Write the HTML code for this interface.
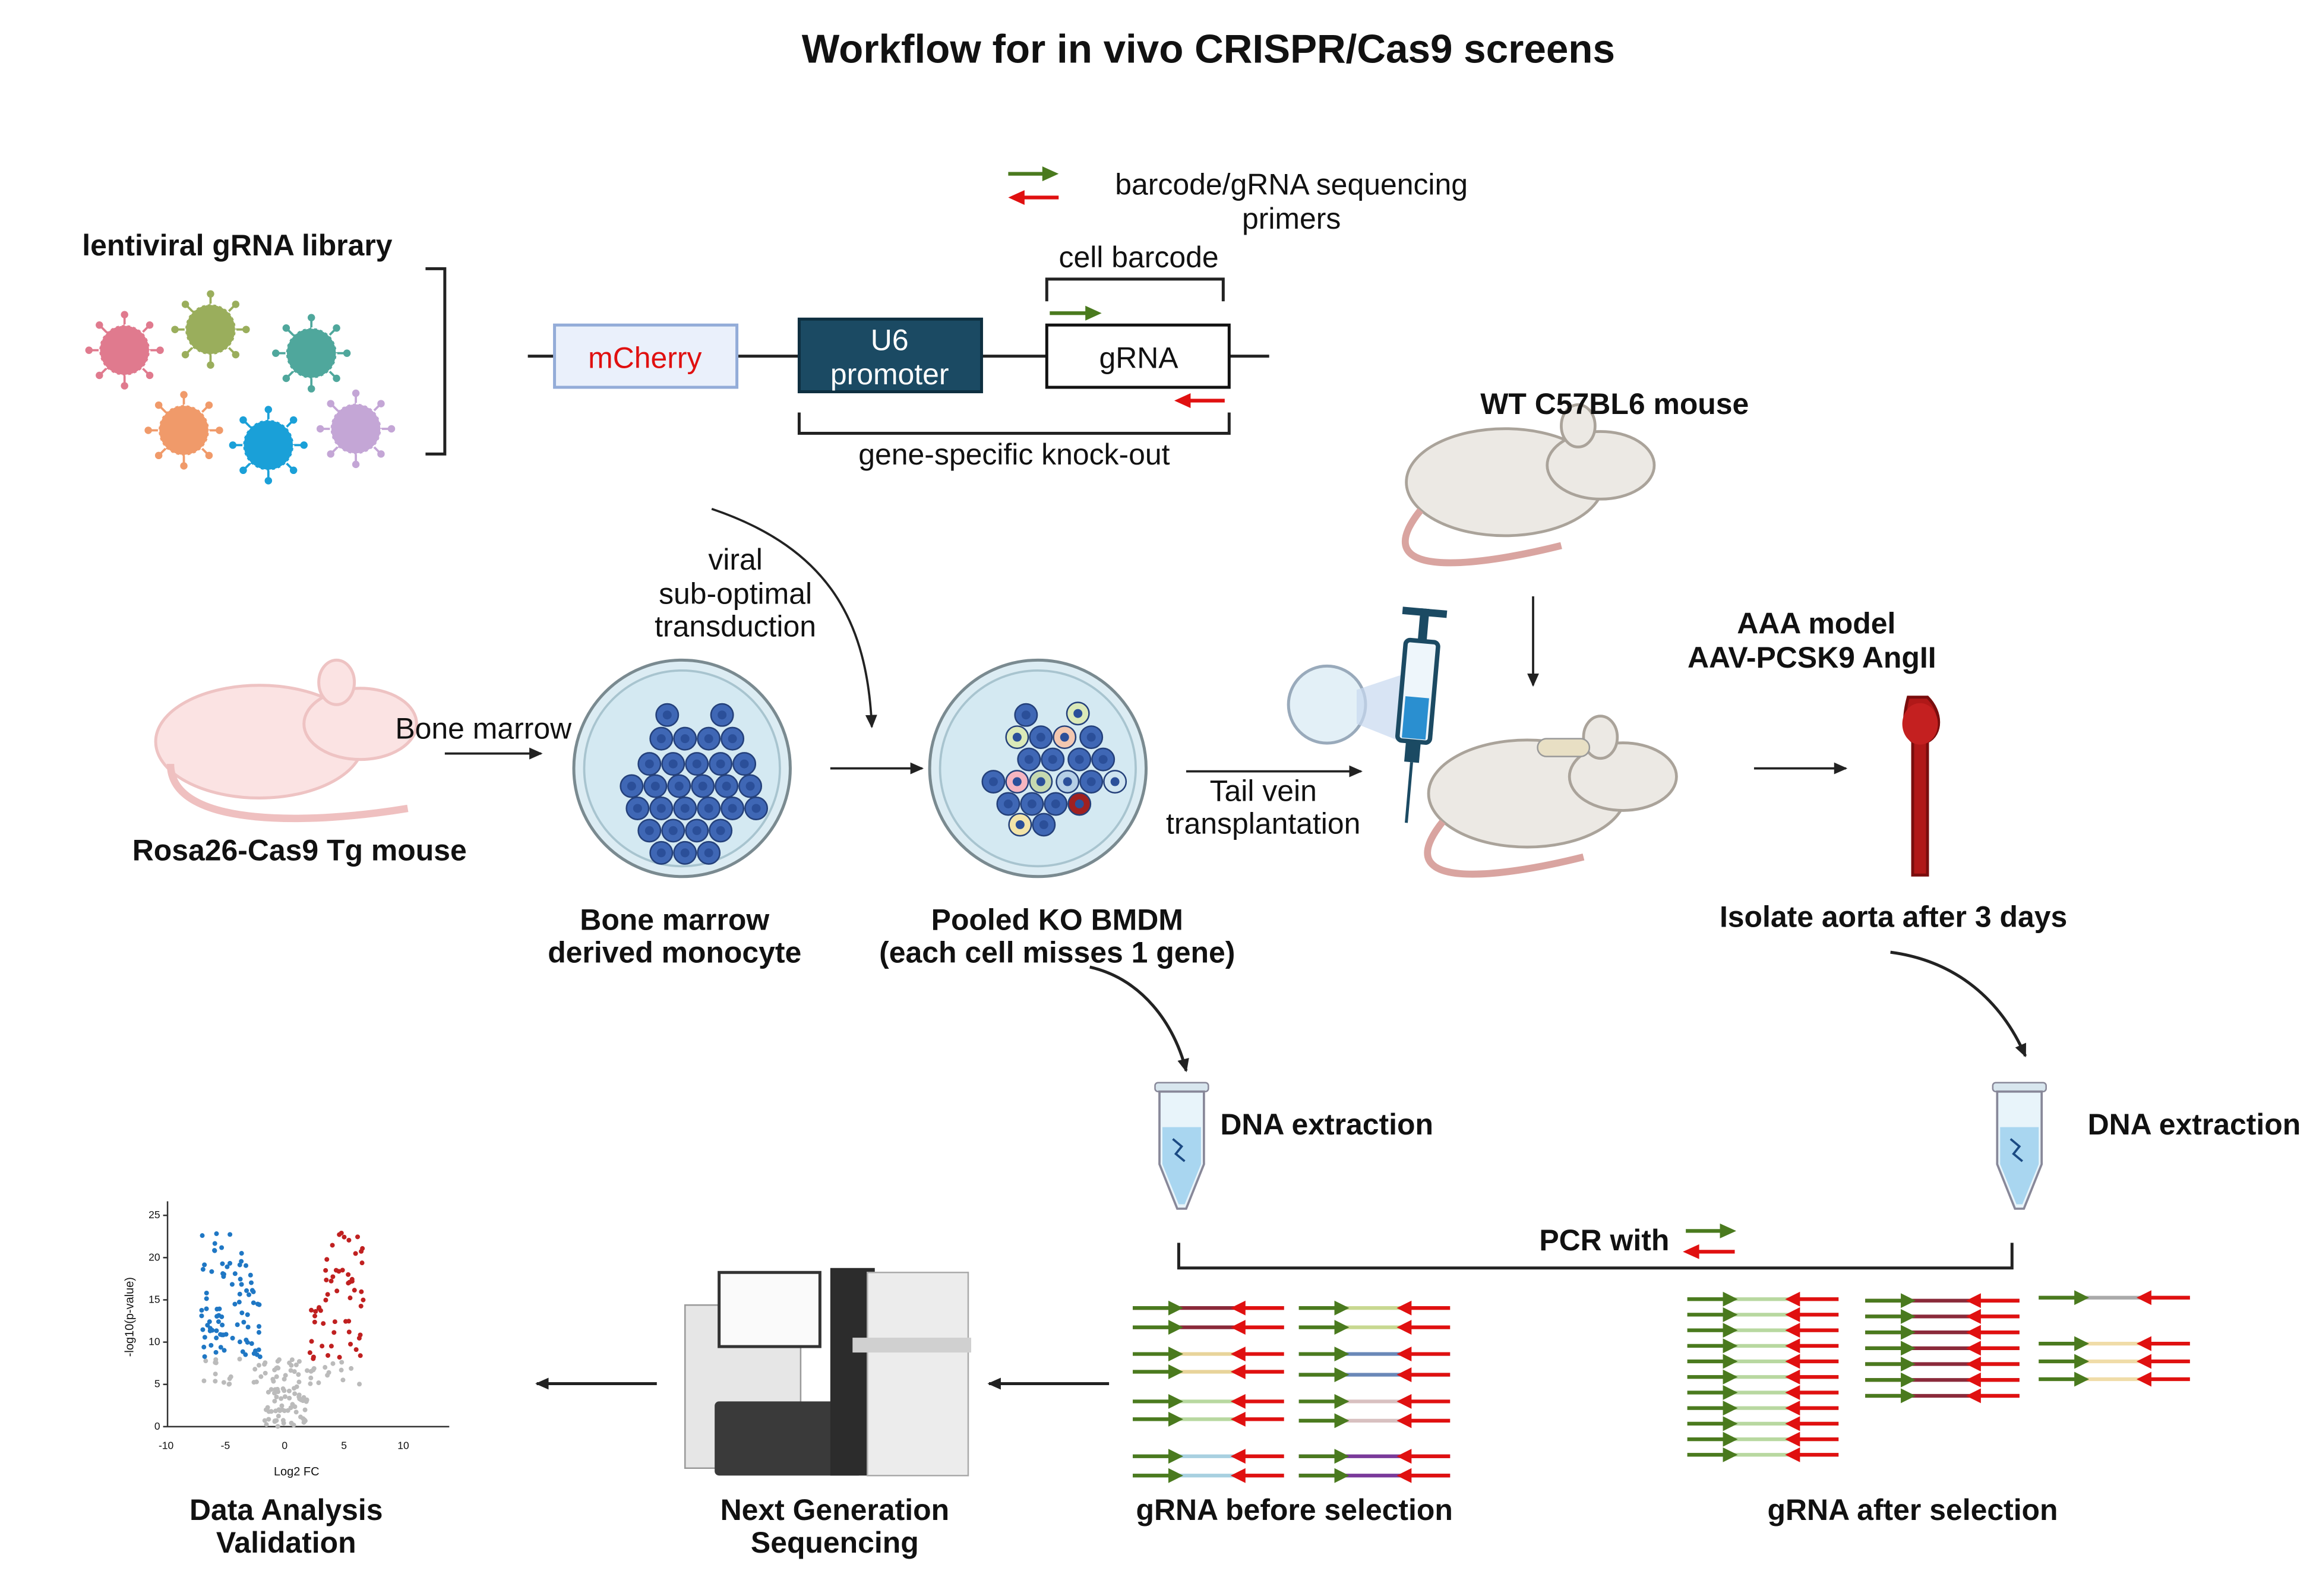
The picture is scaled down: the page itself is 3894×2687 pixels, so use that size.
<!DOCTYPE html>
<html><head><meta charset="utf-8"><style>
html,body{margin:0;padding:0;background:#fff}
svg{display:block}
text{font-family:"Liberation Sans",sans-serif;fill:#111}
.b{font-weight:bold}
</style></head><body>
<svg id="s" xmlns="http://www.w3.org/2000/svg" width="3894" height="2687" viewBox="0 0 1560 1076">
<defs>
<marker id="ah" markerWidth="10" markerHeight="10" refX="8" refY="5" orient="auto" markerUnits="userSpaceOnUse"><path d="M0,1 L9,5 L0,9 Z" fill="#222"/></marker>
<g id="mouse">
<ellipse cx="0" cy="0" rx="70" ry="38"/>
<ellipse cx="68" cy="-12" rx="38" ry="24"/>
<ellipse cx="52" cy="-40" rx="12" ry="15"/>
</g>
</defs>
<rect width="1560" height="1076" fill="#fff"/>
<text x="815" y="42" font-size="27" class="b" text-anchor="middle">Workflow for in vivo CRISPR/Cas9 screens</text>

<!-- legend -->
<line x1="680" y1="117" x2="705" y2="117" stroke="#4a7a1e" stroke-width="2.5"/><path d="M703,112 L714,117 L703,122Z" fill="#4a7a1e"/>
<line x1="690" y1="133" x2="714" y2="133" stroke="#e01010" stroke-width="2.5"/><path d="M691,128 L680,133 L691,138Z" fill="#e01010"/>
<text x="871" y="131" font-size="20" text-anchor="middle">barcode/gRNA sequencing</text>
<text x="871" y="154" font-size="20" text-anchor="middle">primers</text>

<text x="160" y="172" font-size="20" class="b" text-anchor="middle">lentiviral gRNA library</text>
<g id="vir"></g>
<path d="M287,181 H300 V306 H287" fill="none" stroke="#222" stroke-width="2"/>

<!-- construct -->
<line x1="356" y1="240" x2="856" y2="240" stroke="#222" stroke-width="2"/>
<rect x="374" y="219" width="123" height="42" fill="#eaf0fb" stroke="#93acd8" stroke-width="2"/>
<text x="435" y="248" font-size="20" text-anchor="middle" style="fill:#e01010">mCherry</text>
<rect x="539" y="215" width="123" height="49" fill="#1b4a63" stroke="#0e2f40" stroke-width="2"/>
<text x="600" y="236" font-size="20" text-anchor="middle" style="fill:#fff">U6</text>
<text x="600" y="259" font-size="20" text-anchor="middle" style="fill:#fff">promoter</text>
<rect x="706" y="219" width="123" height="42" fill="#fff" stroke="#111" stroke-width="2"/>
<text x="768" y="248" font-size="20" text-anchor="middle">gRNA</text>
<path d="M706,203 V188 H825 V203" fill="none" stroke="#222" stroke-width="2"/>
<text x="768" y="180" font-size="20" text-anchor="middle">cell barcode</text>
<line x1="708" y1="211" x2="734" y2="211" stroke="#4a7a1e" stroke-width="2.5"/><path d="M732,206 L743,211 L732,216Z" fill="#4a7a1e"/>
<line x1="802" y1="270" x2="826" y2="270" stroke="#e01010" stroke-width="2.5"/><path d="M803,265 L792,270 L803,275Z" fill="#e01010"/>
<path d="M539,278 V292 H829 V278" fill="none" stroke="#222" stroke-width="2"/>
<text x="684" y="313" font-size="20" text-anchor="middle">gene-specific knock-out</text>

<!-- mice -->
<g fill="#fbe3e3" stroke="#eec3c3" stroke-width="2" transform="translate(175,500)"><use href="#mouse"/>
<path d="M-60,15 C-60,60 40,55 100,45" fill="none" stroke="#efc0c0" stroke-width="5"/></g>
<text x="202" y="580" font-size="20" class="b" text-anchor="middle">Rosa26-Cas9 Tg mouse</text>
<g fill="#ece9e4" stroke="#aaa39a" stroke-width="2" transform="translate(1015,325) scale(0.95)"><use href="#mouse"/>
<path d="M-60,20 C-100,70 -20,60 40,45" fill="none" stroke="#d9a4a0" stroke-width="5"/></g>
<text x="1089" y="279" font-size="20" class="b" text-anchor="middle">WT C57BL6 mouse</text>
<g fill="#ece9e4" stroke="#aaa39a" stroke-width="2" transform="translate(1030,535) scale(0.95)"><use href="#mouse"/>
<path d="M-60,20 C-100,70 -20,60 40,45" fill="none" stroke="#d9a4a0" stroke-width="5"/></g>
<rect x="1037" y="498" width="35" height="12" rx="6" fill="#e8dfc4" stroke="#999"/>

<!-- arrows -->
<text x="326" y="498" font-size="20" text-anchor="middle">Bone marrow</text>
<line x1="300" y1="508" x2="365" y2="508" stroke="#222" stroke-width="1.5" marker-end="url(#ah)"/>
<line x1="560" y1="518" x2="622" y2="518" stroke="#222" stroke-width="1.5" marker-end="url(#ah)"/>
<line x1="800" y1="520" x2="918" y2="520" stroke="#222" stroke-width="1.5" marker-end="url(#ah)"/>
<text x="852" y="540" font-size="20" text-anchor="middle">Tail vein</text>
<text x="852" y="562" font-size="20" text-anchor="middle">transplantation</text>
<line x1="1034" y1="402" x2="1034" y2="462" stroke="#222" stroke-width="1.5" marker-end="url(#ah)"/>
<line x1="1183" y1="518" x2="1245" y2="518" stroke="#222" stroke-width="1.5" marker-end="url(#ah)"/>
<path d="M480,343 C560,370 585,420 588,490" fill="none" stroke="#222" stroke-width="1.5" marker-end="url(#ah)"/>
<text x="496" y="384" font-size="20" text-anchor="middle">viral</text>
<text x="496" y="407" font-size="20" text-anchor="middle">sub-optimal</text>
<text x="496" y="429" font-size="20" text-anchor="middle">transduction</text>
<path d="M735,652 C770,660 792,690 800,722" fill="none" stroke="#222" stroke-width="2" marker-end="url(#ah)"/>
<path d="M1275,642 C1320,648 1350,675 1366,712" fill="none" stroke="#222" stroke-width="2" marker-end="url(#ah)"/>
<line x1="748" y1="933" x2="667" y2="933" stroke="#222" stroke-width="2" marker-end="url(#ah)"/>
<line x1="443" y1="933" x2="362" y2="933" stroke="#222" stroke-width="2" marker-end="url(#ah)"/>

<!-- dishes -->
<circle cx="460" cy="518" r="73" fill="#dcecf3" stroke="#7a8a90" stroke-width="2"/>
<circle cx="460" cy="518" r="66" fill="#d4e9f2" stroke="#a8c4cf" stroke-width="1.5"/>
<circle cx="700" cy="518" r="73" fill="#dcecf3" stroke="#7a8a90" stroke-width="2"/>
<circle cx="700" cy="518" r="66" fill="#d4e9f2" stroke="#a8c4cf" stroke-width="1.5"/>
<g id="cells"></g>
<text x="455" y="627" font-size="20" class="b" text-anchor="middle">Bone marrow</text>
<text x="455" y="649" font-size="20" class="b" text-anchor="middle">derived monocyte</text>
<text x="713" y="627" font-size="20" class="b" text-anchor="middle">Pooled KO BMDM</text>
<text x="713" y="649" font-size="20" class="b" text-anchor="middle">(each cell misses 1 gene)</text>

<!-- syringe -->
<circle cx="895" cy="475" r="26" fill="#e3f0f7" stroke="#9ab" stroke-width="2"/>
<path d="M915,465 L945,455 L945,500 L915,488Z" fill="#c8d8f0" opacity="0.7"/>
<g transform="rotate(5 955 480)">
<rect x="952" y="410" width="6" height="25" fill="#1b4a63"/><rect x="940" y="410" width="30" height="5" fill="#1b4a63"/>
<rect x="944" y="432" width="22" height="68" rx="3" fill="#eef6fb" stroke="#1b4a63" stroke-width="3"/>
<rect x="947" y="470" width="16" height="28" fill="#2a8fd0"/>
<rect x="950" y="500" width="10" height="14" fill="#1b4a63"/>
<line x1="955" y1="514" x2="955" y2="555" stroke="#1b4a63" stroke-width="2"/></g>

<text x="1225" y="427" font-size="20" class="b" text-anchor="middle">AAA model</text>
<text x="1222" y="450" font-size="20" class="b" text-anchor="middle">AAV-PCSK9 AngII</text>
<path d="M1287,470 C1283,485 1284,495 1290,500 L1290,590 L1300,590 L1300,500 C1310,495 1310,480 1300,470 Z" fill="#b01818" stroke="#7a0d0d" stroke-width="2"/>
<ellipse cx="1295" cy="488" rx="12" ry="14" fill="#c42020"/>
<text x="1277" y="625" font-size="20" class="b" text-anchor="middle">Isolate aorta after 3 days</text>

<!-- tubes -->
<g id="t1" transform="translate(797,0)">
<rect x="-18" y="730" width="36" height="6" rx="2" fill="#d8e6ee" stroke="#889"/>
<path d="M-15,736 V785 L-3,815 H3 L15,785 V736Z" fill="#e8f4fa" stroke="#889" stroke-width="1.5"/>
<path d="M-13,760 V785 L-2,812 H2 L13,785 V760Z" fill="#a9d6f0"/>
<path d="M-6,768 l6,5 l-4,5 l6,5" stroke="#1b4a83" fill="none" stroke-width="1.5"/></g>
<use href="#t1" x="565"/>
<text x="823" y="765" font-size="20" class="b">DNA extraction</text>
<text x="1408" y="765" font-size="20" class="b">DNA extraction</text>

<!-- PCR -->
<path d="M795,838 V855 H1357 V838" fill="none" stroke="#222" stroke-width="2"/>
<text x="1082" y="843" font-size="20" class="b" text-anchor="middle">PCR with</text>
<line x1="1137" y1="830" x2="1162" y2="830" stroke="#4a7a1e" stroke-width="2.5"/><path d="M1160,825 L1171,830 L1160,835Z" fill="#4a7a1e"/>
<line x1="1145" y1="844" x2="1170" y2="844" stroke="#e01010" stroke-width="2.5"/><path d="M1146,839 L1135,844 L1146,849Z" fill="#e01010"/>
<g id="pr"></g>
<text x="873" y="1025" font-size="20" class="b" text-anchor="middle">gRNA before selection</text>
<text x="1290" y="1025" font-size="20" class="b" text-anchor="middle">gRNA after selection</text>

<!-- sequencer -->
<rect x="462" y="880" width="78" height="110" fill="#e6e6e6" stroke="#999"/>
<rect x="482" y="945" width="100" height="50" rx="3" fill="#3a3a3a"/>
<rect x="485" y="858" width="68" height="50" fill="#fafafa" stroke="#333" stroke-width="2"/>
<rect x="560" y="855" width="30" height="140" fill="#2c2c2c"/>
<rect x="585" y="858" width="68" height="137" fill="#ececec" stroke="#aaa"/>
<rect x="575" y="902" width="80" height="10" fill="#d0d0d0"/>
<text x="563" y="1025" font-size="20" class="b" text-anchor="middle">Next Generation</text>
<text x="563" y="1047" font-size="20" class="b" text-anchor="middle">Sequencing</text>

<!-- volcano -->
<line x1="113" y1="810" x2="113" y2="962" stroke="#333"/>
<line x1="113" y1="962" x2="303" y2="962" stroke="#333"/>
<g font-size="7" id="ax"></g>
<text x="200" y="995" font-size="8" text-anchor="middle">Log2 FC</text>
<text transform="translate(90,888) rotate(-90)" font-size="8" text-anchor="middle">-log10(p-value)</text>
<g id="pts"></g>
<text x="193" y="1025" font-size="20" class="b" text-anchor="middle">Data Analysis</text>
<text x="193" y="1047" font-size="20" class="b" text-anchor="middle">Validation</text>
</svg>
<script>
var NS="http://www.w3.org/2000/svg";
function el(p,t,a){var e=document.createElementNS(NS,t);for(var k in a)e.setAttribute(k,a[k]);document.getElementById(p).appendChild(e);return e;}
var seed=7;function r(){seed=(seed*9301+49297)%233280;return seed/233280;}
[[84,236,'#e07a8e'],[142,222,'#9aae5c'],[210,238,'#4fa79c'],[124,290,'#f09a6a'],[181,300,'#1aa0d8'],[240,289,'#c4a6d6']].forEach(function(v){
for(var i=0;i<8;i++){var a=i*Math.PI/4;el('vir','line',{x1:v[0],y1:v[1],x2:v[0]+24*Math.cos(a),y2:v[1]+24*Math.sin(a),stroke:v[2],'stroke-width':1.5});el('vir','circle',{cx:v[0]+24*Math.cos(a),cy:v[1]+24*Math.sin(a),r:2.5,fill:v[2]});}
el('vir','circle',{cx:v[0],cy:v[1],r:17,fill:v[2],stroke:'#fff','stroke-width':1,'stroke-dasharray':'2 2'});});
function cell(x,y,c){el('cells','circle',{cx:x,cy:y,r:7.5,fill:c||'#3f67b5',stroke:'#24407a','stroke-width':1});el('cells','circle',{cx:x,cy:y,r:3,fill:'#2b4f99'});}
var rows=[[462,[450,487]],[478,[446,462,478,494]],[495,[438,454,470,486,502]],[510,[426,442,458,474,490,506]],[525,[430,446,462,478,494,510]],[540,[438,454,470,486]],[555,[446,462,478]]];
rows.forEach(function(rw){rw[1].forEach(function(x){cell(x,rw[0]+20);});});
var c2=[[692,482],[727,481,'#dbe9b8'],[686,497,'#dbe9b8'],[702,497],[718,497,'#f3c7b0'],[736,497],[694,512],[710,512],[728,512],[744,512],[670,527],[686,527,'#f5b5c0'],[702,527,'#c6d9b0'],[720,527,'#b5cfe6'],[736,527],[752,527,'#cfe4f0'],[680,542],[696,542],[712,542],[728,542,'#a02020'],[688,556,'#f3e4a8'],[704,556]];
c2.forEach(function(c){cell(c[0],c[1],c[2]);});
function pr(x,y,w,c){el('pr','line',{x1:x,y1:y,x2:x+w,y2:y,stroke:c,'stroke-width':2.5});
el('pr','line',{x1:x,y1:y,x2:x+28,y2:y,stroke:'#4a7a1e','stroke-width':2.5});el('pr','path',{d:'M'+(x+24)+','+(y-5)+' l10,5 l-10,5Z',fill:'#4a7a1e'});
el('pr','line',{x1:x+w-30,y1:y,x2:x+w,y2:y,stroke:'#e01010','stroke-width':2.5});el('pr','path',{d:'M'+(x+w-26)+','+(y-5)+' l-10,5 l10,5Z',fill:'#e01010'});}
[[882,'#8a2a3a'],[895,'#8a2a3a'],[913,'#e8d49a'],[925,'#e8d49a'],[945,'#b8d8a0'],[957,'#b8d8a0'],[982,'#a8d0e0'],[995,'#a8d0e0']].forEach(function(a){pr(764,a[0],102,a[1]);});
[[882,'#c8d890'],[895,'#c8d890'],[913,'#6a88b8'],[927,'#6a88b8'],[945,'#d8c0c0'],[958,'#d8c0c0'],[982,'#7a3a9a'],[995,'#7a3a9a']].forEach(function(a){pr(876,a[0],102,a[1]);});
for(var i=0;i<11;i++)pr(1138,876+i*10.5,102,'#b8d8a0');
for(var i=0;i<7;i++)pr(1258,877+i*10.7,104,'#8a2a3a');
pr(1375,875,102,'#aaaaaa');[906,918,930].forEach(function(y){pr(1375,y,102,'#f0dca8');});
[-10,-5,0,5,10].forEach(function(v){var x=192+v*8;el('ax','text',{x:x,y:977,'text-anchor':'middle'}).textContent=v;});
[0,5,10,15,20,25].forEach(function(v){var y=962-v*5.7;el('ax','text',{x:108,y:y+2,'text-anchor':'end'}).textContent=v;el('ax','line',{x1:110,y1:y,x2:113,y2:y,stroke:'#333'});});
for(var i=0;i<260;i++){var x=(r()-0.5)*2;
var fc=x*7;var g=Math.abs(fc)<2;var yv=g?r()*8:(r()*18*Math.min(1,Math.abs(fc)/4)+5);
var col=g||yv<8?'#bbbbbb':(fc<0?'#1f77c4':'#c02020');
el('pts','circle',{cx:192+fc*8,cy:962-yv*5.7,r:1.6,fill:col});}
</script>
</body></html>
